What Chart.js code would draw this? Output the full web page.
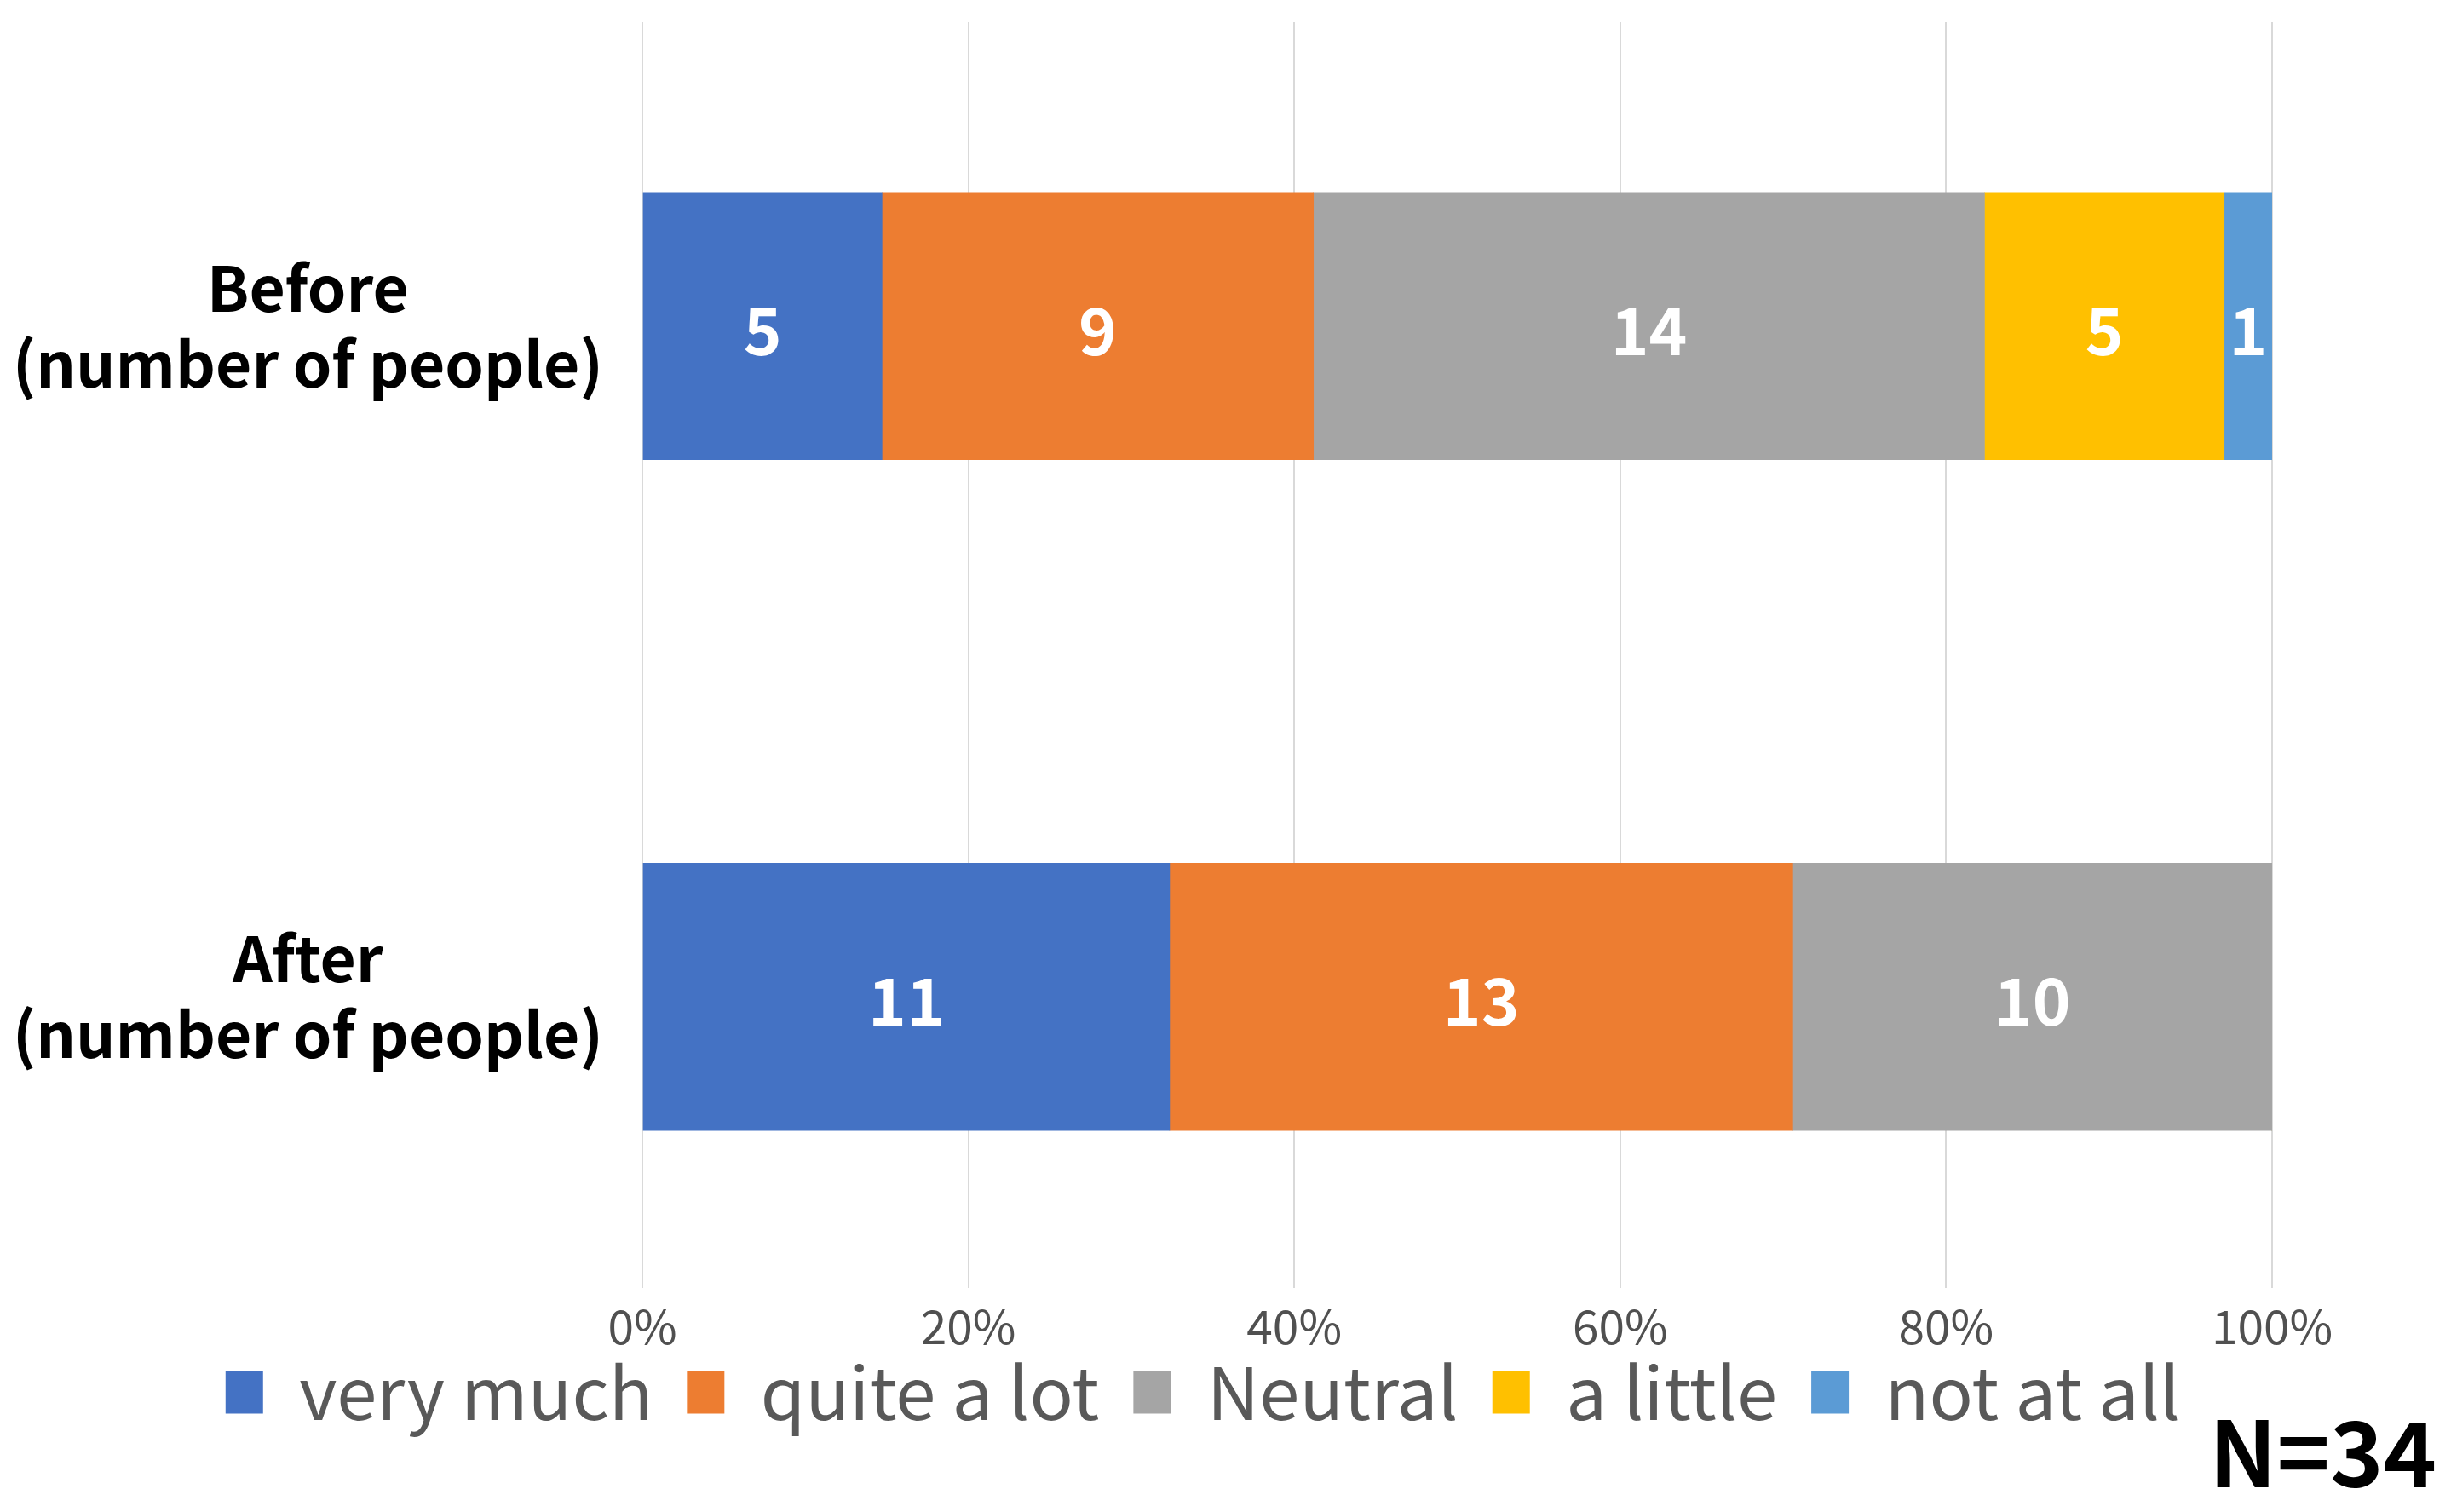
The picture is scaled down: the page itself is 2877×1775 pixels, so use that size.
<!DOCTYPE html>
<html>
<head>
<meta charset="utf-8">
<script src="https://cdn.jsdelivr.net/npm/chart.js@4"></script>
<style>
  html, body { margin: 0; padding: 0; background: #fff; }
  #wrap { width: 2877px; height: 1775px; }
</style>
</head>
<body>
<div id="wrap"><canvas id="bar-chart" width="2877" height="1775"></canvas></div>
<script>
// before / after survey, stacked 100% bars
var categories = [['Before', '(number of people)'], ['After', '(number of people)']];
var seriesNames = ['very much', 'quite a lot', 'Neutral', 'a little', 'not at all'];
var veryMuch = [5, 11];
var quiteALot = [9, 13];
var neutral = [14, 10];
var aLittle = [5, 0];
var notAtAll = [1, 0];
var seriesColors = ['#4472C4', '#ED7D31', '#A5A5A5', '#FFC000', '#5B9BD5'];
var xTickValues = [0, 20, 40, 60, 80, 100];
var sampleSize = 'N=34';

var allSeries = [veryMuch, quiteALot, neutral, aLittle, notAtAll];
var totals = categories.map(function (c, i) {
    return allSeries.reduce(function (s, arr) { return s + arr[i]; }, 0);
});

var FONT = "'Noto Sans CJK JP', 'Noto Sans', sans-serif";

var datasets = allSeries.map(function (arr, k) {
    return {
        label: seriesNames[k],
        counts: arr,
        data: arr.map(function (v, i) { return { x: v / totals[i] * 100, y: i }; }),
        backgroundColor: seriesColors[k],
        borderWidth: 0,
        barThickness: 314
    };
});

// count labels in the middle of each segment
var countLabels = {
    id: 'countLabels',
    afterDatasetsDraw: function (chart) {
        var ctx = chart.ctx;
        ctx.save();
        ctx.fillStyle = '#ffffff';
        ctx.font = 'bold 76px ' + FONT;
        ctx.textAlign = 'center';
        ctx.textBaseline = 'middle';
        chart.data.datasets.forEach(function (ds, k) {
            var meta = chart.getDatasetMeta(k);
            meta.data.forEach(function (bar, i) {
                if (!ds.counts[i]) return;
                ctx.fillText(String(ds.counts[i]), (bar.x + bar.base) / 2, bar.y + 5);
            });
        });
        ctx.restore();
    }
};

// sample size note, bottom right
var sampleNote = {
    id: 'sampleNote',
    afterDraw: function (chart) {
        var ctx = chart.ctx;
        ctx.save();
        ctx.fillStyle = '#000000';
        ctx.font = 'bold 106px ' + FONT;
        ctx.textAlign = 'right';
        ctx.textBaseline = 'middle';
        ctx.fillText(sampleSize, 2860, 1706);
        ctx.restore();
    }
};

var ctx = document.getElementById('bar-chart').getContext('2d');
var myChart = new Chart(ctx, {
    type: 'bar',
    data: { datasets: datasets },
    plugins: [countLabels, sampleNote],
    options: {
        indexAxis: 'y',
        responsive: false,
        animation: false,
        layout: { padding: { top: 26, right: 53, bottom: 88, left: 0 } },
        plugins: {
            tooltip: { enabled: false },
            legend: {
                position: 'bottom',
                labels: {
                    boxWidth: 44,
                    boxHeight: 50,
                    padding: 40,
                    color: '#595959',
                    font: { family: FONT, size: 85 }
                }
            }
        },
        scales: {
            x: {
                stacked: true,
                min: 0,
                max: 100,
                afterBuildTicks: function (scale) {
                    scale.ticks = xTickValues.map(function (v) { return { value: v }; });
                },
                // labels hang below the plot, the legend sits close under them
                afterFit: function (scale) { scale.height = 40; },
                ticks: {
                    mirror: true,
                    padding: -78,
                    color: '#505050',
                    font: { family: FONT, size: 55 },
                    callback: function (v) { return v + '%'; }
                },
                grid: { color: '#D9D9D9', lineWidth: 2, drawTicks: false },
                border: { display: false }
            },
            y: {
                type: 'linear',
                stacked: true,
                reverse: true,
                offset: false,
                min: -0.453,
                max: 1.434,
                afterBuildTicks: function (scale) {
                    scale.ticks = categories.map(function (c, i) { return { value: i }; });
                },
                afterFit: function (scale) {
                    scale.width = 754;
                    scale.paddingTop = 0;
                    scale.paddingBottom = 0;
                },
                ticks: {
                    crossAlign: 'center',
                    padding: 38,
                    color: '#000000',
                    font: { family: FONT, size: 73, weight: 'bold', lineHeight: 1.22 },
                    callback: function (v) { return categories[v]; }
                },
                grid: { display: false },
                border: { display: false }
            },
            // empty spacer on the right so the legend sits where the original has it
            spacer: {
                type: 'linear',
                position: 'right',
                afterFit: function (scale) { scale.width = 157; },
                ticks: { display: false },
                grid: { display: false },
                border: { display: false }
            }
        }
    }
});
</script>
</body>
</html>
